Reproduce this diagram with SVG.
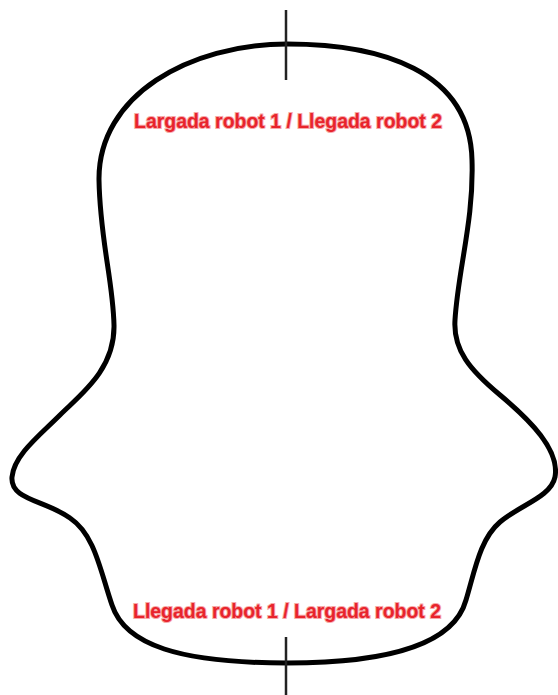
<svg xmlns="http://www.w3.org/2000/svg" width="558" height="695" viewBox="0 0 558 695">
  <style>
    .track { fill: none; stroke: #000; stroke-width: 5; stroke-linejoin: round; }
    .mark { stroke: #222; stroke-width: 2.5; fill: none; }
    .label { font-family: "Liberation Sans", Arial, sans-serif; font-weight: bold; font-size: 20px; fill: #e8242c; stroke: #f7a8a8; stroke-width: 2; paint-order: stroke; text-anchor: middle; }
  </style>
  <rect width="558" height="695" fill="#fff"/>
  <g id="track">
    <path class="track" d="M 287,44 C 380,44 470,70 472,160 C 474,220 458,270 455,320 C 453,350 470,370 500,395 C 530,420 560,450 555,477 C 551,497 520,505 500,522 C 480,539 475,570 466,600 C 455,640 400,663 287,663 C 180,663 125,645 112,605 C 100,570 95,535 70,518 C 45,500 10,500 12,477 C 14,455 40,435 60,415 C 80,395 115,370 114,325 C 113,280 100,240 99,180 C 98,95 190,44 287,44 Z"/>
  </g>
  <g id="connectors">
    <line id="start-mark-top" class="mark" x1="286" y1="10" x2="286" y2="80"/>
    <line id="start-mark-bottom" class="mark" x1="286" y1="637" x2="286" y2="695"/>
  </g>
  <g id="label-top">
    <text class="label" x="288" y="128" textLength="308" lengthAdjust="spacingAndGlyphs">Largada robot 1 / Llegada robot 2</text>
  </g>
  <g id="label-bottom">
    <text class="label" x="287" y="618" textLength="308" lengthAdjust="spacingAndGlyphs">Llegada robot 1 / Largada robot 2</text>
  </g>
</svg>
